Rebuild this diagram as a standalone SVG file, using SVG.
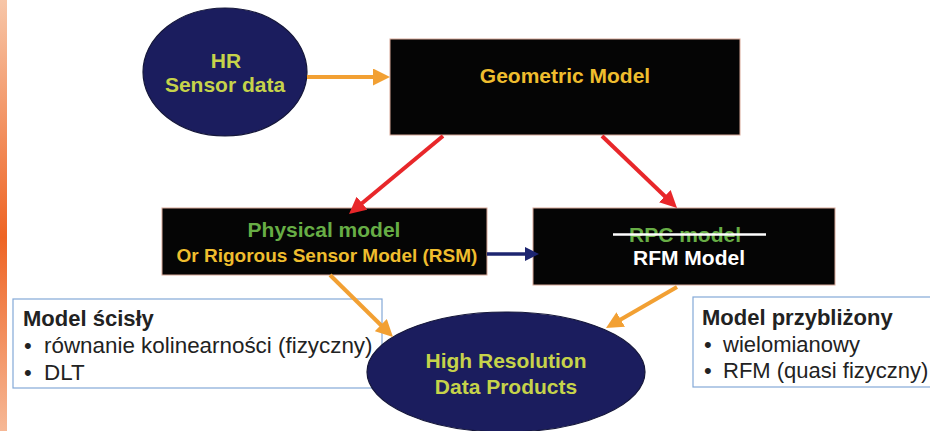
<svg xmlns="http://www.w3.org/2000/svg" width="930" height="431" viewBox="0 0 930 431">
<style>
.bx{fill:#050505;stroke:#d8a898;stroke-width:1}
.el{fill:#1b1d5e;stroke:#15173a;stroke-width:1.2}
.t{font-family:"Liberation Sans",Arial,sans-serif;font-weight:bold;font-size:21px;text-anchor:middle}
.yg{fill:#c6d34a}
.gd{fill:#efbd2e}
.gr{fill:#67ad45}
.wh{fill:#ffffff}
.nb{fill:none;stroke:#84a9d8;stroke-width:1.2}
.bt{font-family:"Liberation Sans",Arial,sans-serif;font-size:22px;fill:#222222}
.bb{font-weight:bold}
.or{stroke:#f2a033;stroke-width:4;fill:none}
.rd{stroke:#e8272a;stroke-width:4;fill:none}
.bl{stroke:#1d2570;stroke-width:3.5;fill:none}
</style>
<defs>
<linearGradient id="stripe" x1="0" y1="0" x2="0" y2="1">
<stop offset="0" stop-color="#f7c6a8"/>
<stop offset="0.55" stop-color="#ee6424"/>
<stop offset="1" stop-color="#f6b896"/>
</linearGradient>
<marker id="ao" markerUnits="userSpaceOnUse" markerWidth="17" markerHeight="17" refX="11" refY="8.5" orient="auto"><path d="M0,0 L17,8.5 L0,17 z" fill="#f2a033"/></marker>
<marker id="ar" markerUnits="userSpaceOnUse" markerWidth="17" markerHeight="17" refX="11" refY="8.5" orient="auto"><path d="M0,0 L17,8.5 L0,17 z" fill="#e8272a"/></marker>
<marker id="ab" markerUnits="userSpaceOnUse" markerWidth="14" markerHeight="14" refX="9" refY="7" orient="auto"><path d="M0,0 L14,7 L0,14 z" fill="#1d2570"/></marker>
</defs>
<rect width="930" height="431" fill="#ffffff"/>
<rect x="0" y="0" width="7" height="431" fill="url(#stripe)"/>

<g id="note-left">
<rect class="nb" x="13" y="299" width="369" height="89"/>
<text class="bt bb" x="23" y="326">Model ścisły</text>
<text class="bt" x="24" y="353">•</text>
<text class="bt" x="44" y="353" style="font-size:22.4px">równanie kolinearności (fizyczny)</text>
<text class="bt" x="24" y="380">•</text>
<text class="bt" x="44" y="380" style="font-size:22.4px">DLT</text>
</g>
<g id="note-right">
<rect class="nb" x="693" y="297" width="245" height="90"/>
<text class="bt bb" x="702" y="325">Model przybliżony</text>
<text class="bt" x="704" y="352">•</text>
<text class="bt" x="723" y="352">wielomianowy</text>
<text class="bt" x="704" y="378">•</text>
<text class="bt" x="723" y="378">RFM (quasi fizyczny)</text>
</g>

<g id="hr-sensor">
<ellipse class="el" cx="225" cy="72" rx="82" ry="64"/>
<text class="t yg" x="226" y="68">HR</text>
<text class="t yg" x="225" y="92">Sensor data</text>
</g>
<g id="geometric">
<rect class="bx" x="390" y="39" width="350" height="96"/>
<text class="t gd" x="565" y="83">Geometric Model</text>
</g>
<g id="physical">
<rect class="bx" x="162" y="208" width="325" height="67"/>
<text class="t gr" x="324" y="237">Physical model</text>
<text class="t gd" x="327" y="262" style="font-size:19px">Or Rigorous Sensor Model (RSM)</text>
</g>
<g id="rfm">
<rect class="bx" x="533" y="208" width="302" height="77"/>
<text class="t gr" x="685" y="242">RPC model</text>
<line x1="613" y1="234.5" x2="766" y2="234.5" stroke="#ffffff" stroke-width="2.5"/>
<text class="t wh" x="689" y="265">RFM Model</text>
</g>
<g id="hr-products">
<ellipse class="el" cx="506" cy="372" rx="139" ry="60"/>
<text class="t yg" x="506" y="368">High Resolution</text>
<text class="t yg" x="506" y="394">Data Products</text>
</g>

<g id="connectors">
<line class="or" x1="307" y1="77" x2="384" y2="77" marker-end="url(#ao)"/>
<line class="rd" x1="443" y1="136" x2="353.6" y2="210.2" marker-end="url(#ar)"/>
<line class="rd" x1="602" y1="136" x2="672.7" y2="203.8" marker-end="url(#ar)"/>
<line class="bl" x1="487" y1="254" x2="534" y2="254" marker-end="url(#ab)"/>
<line class="or" x1="330" y1="275" x2="388.7" y2="332.8" marker-end="url(#ao)"/>
<line class="or" x1="677" y1="287" x2="611.2" y2="325" marker-end="url(#ao)"/>
</g>
</svg>
